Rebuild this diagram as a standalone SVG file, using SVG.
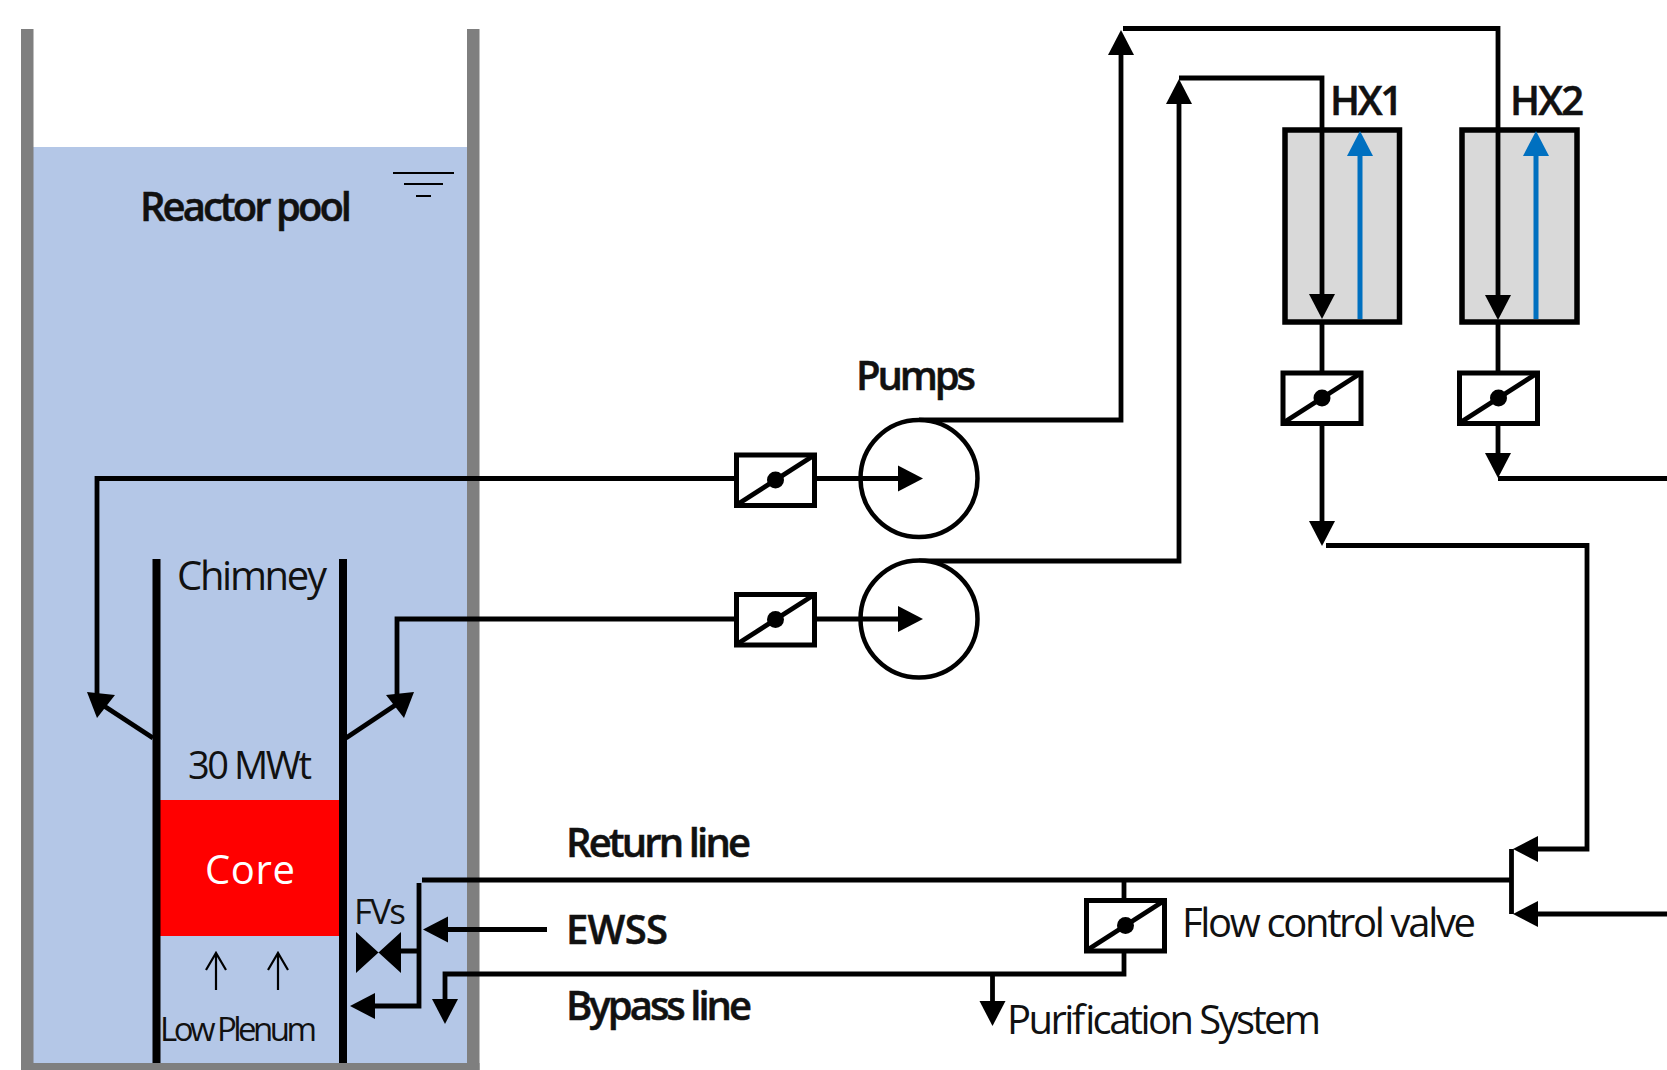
<svg xmlns="http://www.w3.org/2000/svg" width="1667" height="1070" viewBox="0 0 1667 1070">
<style>
text{font-family:"Open Sans","Noto Sans","Liberation Sans",sans-serif;fill:#111;font-size:40px}
.b{font-weight:600;stroke:#111;stroke-width:.5px}
.p{fill:none;stroke:#000;stroke-width:4.800;stroke-linejoin:miter;stroke-linecap:butt}
.h{fill:#000}
.v{fill:#fff;stroke:#000;stroke-width:5}
.hx{fill:#d9d9d9;stroke:#000;stroke-width:5.500}
.c{fill:#fff;stroke:#000;stroke-width:4.500}
</style>
<defs>
<g id="valve">
<rect class="v" x="-39" y="-25" width="78" height="50.500"/>
<path class="p" d="M-39 25L39-25"/>
<circle r="8.500" fill="#000"/>
</g>
<polygon id="d" points="-13,-25 13,-25 0,0"/>
<polygon id="u" points="-13,25 13,25 0,0"/>
<polygon id="l" points="25,-13 25,13 0,0"/>
<polygon id="r" points="-25,-13 -25,13 0,0"/>
</defs>
<rect width="1667" height="1070" fill="#fff"/>
<g id="reactor-pool">
<rect x="33" y="147" width="435" height="916" fill="#b4c7e7"/>
<rect x="21" y="29" width="12.500" height="1041" fill="#7f7f7f"/>
<rect x="467" y="29" width="12.500" height="1041" fill="#7f7f7f"/>
<rect x="21" y="1063" width="458.500" height="7" fill="#7f7f7f"/>
<path d="M393 173H454M404 184H443M416 196H431" fill="none" stroke="#000" stroke-width="2"/>
<text class="b" x="140" y="221" textLength="212">Reactor pool</text>
</g>
<g id="core">
<rect x="160" y="800" width="179" height="136" fill="#f00"/>
<text x="205" y="884" textLength="90" style="fill:#fff">Core</text>
</g>
<g id="chimney">
<rect x="152.500" y="559" width="8" height="504" fill="#000"/>
<rect x="339" y="559" width="8" height="504" fill="#000"/>
<text x="177" y="590" textLength="150">Chimney</text>
<text x="188" y="779" textLength="124" style="font-size:38px">30 MWt</text>
<text x="160" y="1041" textLength="157" style="font-size:33px">Low Plenum</text>
<path d="M216 990V953M206 970L216 953L226 970M278 990V953M268 970L278 953L288 970" fill="none" stroke="#000" stroke-width="2.200"/>
</g>
<g id="hx1">
<rect class="hx" x="1285" y="130" width="114.500" height="192"/>
<text class="b" x="1330" y="115" textLength="73">HX1</text>
<path d="M1360 319V150" stroke="#0070c0" stroke-width="5" fill="none"/>
<polygon points="1347,156 1373,156 1360,131" fill="#0070c0"/>
</g>
<g id="hx2">
<rect class="hx" x="1462" y="130" width="115" height="192"/>
<text class="b" x="1510" y="115" textLength="74">HX2</text>
<path d="M1536 319V150" stroke="#0070c0" stroke-width="5" fill="none"/>
<polygon points="1523,156 1549,156 1536,131" fill="#0070c0"/>
</g>
<g id="connectors">
<path class="p" d="M735 478.500H97V696"/>
<path class="p" d="M153 738L98 702"/>
<polygon class="h" points="87,692 115,695 97,718"/>
<path class="p" d="M735 619H397V696"/>
<polygon class="h" points="414,692 386,695 404,718"/>
<path class="p" d="M346 738L403 700"/>
<path class="p" d="M919 420H1121V50"/>
<use class="h" href="#u" x="1121" y="30"/>
<path class="p" d="M1123 28.500H1498V300M1498 320V371"/>
<use class="h" href="#d" x="1498" y="320"/>
<path class="p" d="M919 561H1179V100"/>
<use class="h" href="#u" x="1179" y="79"/>
<path class="p" d="M1179 78H1322V300M1322 320V371"/>
<use class="h" href="#d" x="1322" y="319"/>
<path class="p" d="M1322 425V525"/>
<use class="h" href="#d" x="1322" y="546"/>
<path class="p" d="M1326 545.500H1587V849H1535"/>
<use class="h" href="#l" x="1513" y="849"/>
<path class="p" d="M1498 425V458"/>
<use class="h" href="#d" x="1498" y="478"/>
<path class="p" d="M1498 478.500H1667"/>
<path class="p" d="M1667 914H1535"/>
<use class="h" href="#l" x="1513" y="914"/>
<path class="p" d="M1511.500 849V914M1511.500 880H422"/>
<path class="p" d="M419 883V1006H372"/>
<use class="h" href="#l" x="350" y="1006"/>
<path class="p" d="M419 951H385"/>
<path class="p" d="M547 929.500H445"/>
<use class="h" href="#l" x="423" y="929.500"/>
<path class="p" d="M1124 880V898M1124 952V974H445V1002"/>
<use class="h" href="#d" x="445" y="1024"/>
<path class="p" d="M992.500 974V1005"/>
<use class="h" href="#d" x="992.500" y="1026"/>
</g>
<g id="pump1"><circle class="c" cx="919" cy="478.500" r="58.500"/>
<use class="h" href="#r" x="923" y="478.500"/><path class="p" d="M816 478.500H900"/></g>
<g id="pump2"><circle class="c" cx="919" cy="619" r="58.500"/>
<use class="h" href="#r" x="923" y="619"/><path class="p" d="M816 619H900"/></g>
<text class="b" x="856" y="390" textLength="120">Pumps</text>
<g id="valve-p1"><use href="#valve" x="775.500" y="480"/></g>
<g id="valve-p2"><use href="#valve" x="775.500" y="619.500"/></g>
<g id="valve-hx1"><use href="#valve" x="1322" y="398"/></g>
<g id="valve-hx2"><use href="#valve" x="1498.500" y="398"/></g>
<g id="valve-flow"><use href="#valve" x="1125.500" y="925.500"/>
<text x="1182" y="937" textLength="294">Flow control valve</text></g>
<g id="fvs">
<polygon class="h" points="356,932 356,973 401,932 401,973"/>
<text x="354" y="924" textLength="52" style="font-size:35px">FVs</text>
</g>
<g id="labels">
<text class="b" x="566" y="857" textLength="185">Return line</text>
<text class="b" x="566" y="944" textLength="102">EWSS</text>
<text class="b" x="566" y="1020" textLength="186">Bypass line</text>
<text x="1007" y="1034" textLength="314">Purification System</text>
</g>
</svg>
